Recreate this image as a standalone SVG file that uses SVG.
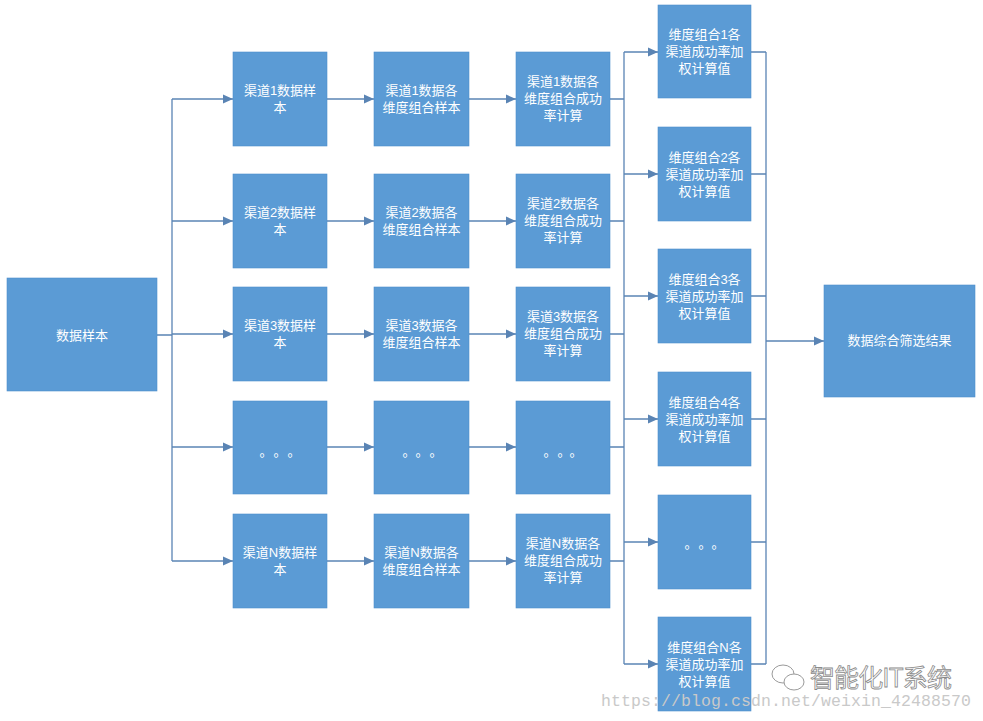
<svg xmlns="http://www.w3.org/2000/svg" width="983" height="721" viewBox="0 0 983 721">
<style>
.box{fill:#5b9bd5;stroke:#4f8fcc;stroke-width:0.6}
.t{font-family:"Liberation Sans","Noto Sans CJK SC",sans-serif;font-size:13px;fill:#ffffff;text-anchor:middle}
.d{font-family:"Noto Sans CJK SC",sans-serif;font-size:13px;fill:#ffffff;text-anchor:middle}
.ln{fill:none;stroke:#5a84b4;stroke-width:1.3}
.ar{fill:none;stroke:#5a84b4;stroke-width:1.3;marker-end:url(#ah)}
</style>
<defs>
<marker id="ah" markerUnits="userSpaceOnUse" markerWidth="10" markerHeight="10" refX="10" refY="5" orient="auto">
<path d="M0,0.5 L10,5 L0,9.5 z" fill="#5a84b4"/>
</marker>
</defs>
<rect width="983" height="721" fill="#ffffff"/>

<g id="connectors">
<path class="ln" d="M157,335 H172 M172,99 V561"/>
<path class="ar" d="M172,99 H233"/>
<path class="ar" d="M172,221 H233"/>
<path class="ar" d="M172,334 H233"/>
<path class="ar" d="M172,447 H233"/>
<path class="ar" d="M172,561 H233"/>
<path class="ar" d="M327,99 H374"/>
<path class="ar" d="M327,221 H374"/>
<path class="ar" d="M327,334 H374"/>
<path class="ar" d="M327,447 H374"/>
<path class="ar" d="M327,561 H374"/>
<path class="ar" d="M469,99 H516"/>
<path class="ar" d="M469,221 H516"/>
<path class="ar" d="M469,334 H516"/>
<path class="ar" d="M469,447 H516"/>
<path class="ar" d="M469,561 H516"/>
<path class="ln" d="M610,99 H624 M610,221 H624 M610,334 H624 M610,447 H624 M610,561 H624 M624,52 V664"/>
<path class="ar" d="M624,52 H658"/>
<path class="ar" d="M624,174 H658"/>
<path class="ar" d="M624,296 H658"/>
<path class="ar" d="M624,419 H658"/>
<path class="ar" d="M624,542 H658"/>
<path class="ar" d="M624,664 H658"/>
<path class="ln" d="M751,52 H766 M751,174 H766 M751,296 H766 M751,419 H766 M751,542 H766 M751,664 H766 M766,52 V664"/>
<path class="ar" d="M766,341 H824"/>
</g>

<g id="n-source"><rect class="box" x="7" y="278" width="150" height="113"/><text class="t" x="82" y="340">数据样本</text></g>

<g id="n-c1-1"><rect class="box" x="233" y="52" width="94" height="94"/><text class="t" x="280" y="95">渠道1数据样</text><text class="t" x="280" y="112">本</text></g>
<g id="n-c1-2"><rect class="box" x="233" y="174" width="94" height="94"/><text class="t" x="280" y="217">渠道2数据样</text><text class="t" x="280" y="234">本</text></g>
<g id="n-c1-3"><rect class="box" x="233" y="287" width="94" height="94"/><text class="t" x="280" y="330">渠道3数据样</text><text class="t" x="280" y="347">本</text></g>
<g id="n-c1-4"><rect class="box" x="233" y="401" width="94" height="93"/><text class="d" x="266 280 294" y="456">。。。</text></g>
<g id="n-c1-5"><rect class="box" x="233" y="514" width="94" height="94"/><text class="t" x="280" y="557">渠道N数据样</text><text class="t" x="280" y="574">本</text></g>

<g id="n-c2-1"><rect class="box" x="374" y="52" width="95" height="94"/><text class="t" x="421.5" y="95">渠道1数据各</text><text class="t" x="421.5" y="112">维度组合样本</text></g>
<g id="n-c2-2"><rect class="box" x="374" y="174" width="95" height="94"/><text class="t" x="421.5" y="217">渠道2数据各</text><text class="t" x="421.5" y="234">维度组合样本</text></g>
<g id="n-c2-3"><rect class="box" x="374" y="287" width="95" height="94"/><text class="t" x="421.5" y="330">渠道3数据各</text><text class="t" x="421.5" y="347">维度组合样本</text></g>
<g id="n-c2-4"><rect class="box" x="374" y="401" width="95" height="93"/><text class="d" x="409 422 436" y="456">。。。</text></g>
<g id="n-c2-5"><rect class="box" x="374" y="514" width="95" height="94"/><text class="t" x="421.5" y="557">渠道N数据各</text><text class="t" x="421.5" y="574">维度组合样本</text></g>

<g id="n-c3-1"><rect class="box" x="516" y="52" width="94" height="94"/><text class="t" x="563" y="86">渠道1数据各</text><text class="t" x="563" y="103">维度组合成功</text><text class="t" x="563" y="120">率计算</text></g>
<g id="n-c3-2"><rect class="box" x="516" y="174" width="94" height="94"/><text class="t" x="563" y="208">渠道2数据各</text><text class="t" x="563" y="225">维度组合成功</text><text class="t" x="563" y="242">率计算</text></g>
<g id="n-c3-3"><rect class="box" x="516" y="287" width="94" height="94"/><text class="t" x="563" y="321">渠道3数据各</text><text class="t" x="563" y="338">维度组合成功</text><text class="t" x="563" y="355">率计算</text></g>
<g id="n-c3-4"><rect class="box" x="516" y="401" width="94" height="93"/><text class="d" x="550 564 576" y="456">。。。</text></g>
<g id="n-c3-5"><rect class="box" x="516" y="514" width="94" height="94"/><text class="t" x="563" y="548">渠道N数据各</text><text class="t" x="563" y="565">维度组合成功</text><text class="t" x="563" y="582">率计算</text></g>

<g id="n-c4-1"><rect class="box" x="658" y="5" width="93" height="93"/><text class="t" x="704.5" y="39">维度组合1各</text><text class="t" x="704.5" y="56">渠道成功率加</text><text class="t" x="704.5" y="73">权计算值</text></g>
<g id="n-c4-2"><rect class="box" x="658" y="127" width="93" height="94"/><text class="t" x="704.5" y="162">维度组合2各</text><text class="t" x="704.5" y="179">渠道成功率加</text><text class="t" x="704.5" y="196">权计算值</text></g>
<g id="n-c4-3"><rect class="box" x="658" y="249" width="93" height="94"/><text class="t" x="704.5" y="284">维度组合3各</text><text class="t" x="704.5" y="301">渠道成功率加</text><text class="t" x="704.5" y="318">权计算值</text></g>
<g id="n-c4-4"><rect class="box" x="658" y="372" width="93" height="94"/><text class="t" x="704.5" y="407">维度组合4各</text><text class="t" x="704.5" y="424">渠道成功率加</text><text class="t" x="704.5" y="441">权计算值</text></g>
<g id="n-c4-5"><rect class="box" x="658" y="495" width="93" height="94"/><text class="d" x="691 705 718" y="548">。。。</text></g>
<g id="n-c4-6"><rect class="box" x="658" y="617" width="93" height="94"/><text class="t" x="704.5" y="652">维度组合N各</text><text class="t" x="704.5" y="669">渠道成功率加</text><text class="t" x="704.5" y="686">权计算值</text></g>

<g id="n-result"><rect class="box" x="824" y="285" width="151" height="112"/><text class="t" x="899.5" y="345">数据综合筛选结果</text></g>

<g id="watermark">
<g fill="#ffffff" stroke="#9a9a9a" stroke-width="1">
<ellipse cx="783" cy="674" rx="11" ry="9"/>
<ellipse cx="794" cy="682" rx="10" ry="8"/>
</g>
<text x="810" y="687" textLength="142" font-family="Noto Sans CJK SC,sans-serif" font-size="25" fill="#ffffff" stroke="#8a8a8a" stroke-width="0.8">智能化IT系统</text>
<text x="601" y="706" textLength="370" font-family="Liberation Mono,monospace" font-size="16.5" fill="#c9c9c9">https://blog.csdn.net/weixin_42488570</text>
</g>
</svg>
